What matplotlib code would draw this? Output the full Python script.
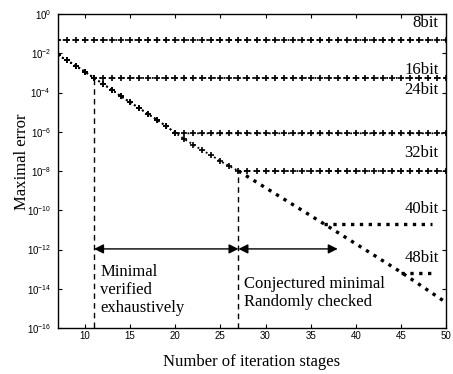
import numpy as np
import matplotlib
matplotlib.use("Agg")
import matplotlib.pyplot as plt

# ---- data (log10 of maximal error) ----
diag_x = list(range(7, 28))
diag_log = [-2.09, -2.36, -2.65, -2.95, -3.26, -3.57, -3.87, -4.20, -4.50, -4.80,
            -5.10, -5.40, -5.72, -6.06, -6.37, -6.66, -6.95, -7.20, -7.50, -7.75, -8.00]
tail_x = [27, 36.5, 45, 50]
tail_log = [-8.00, -10.70, -13.15, -14.70]

bit_labels = ["8bit", "16bit", "24bit", "32bit", "40bit", "48bit"]
plateau_log = [-1.32, -3.26, -6.08, -8.00, -10.70, -13.20]
knee_x = [7, 11, 20, 27, 36.5, 45]
plateau_end = [50, 50, 50, 50, 48.5, 48.5]
label_log = [-0.45, -2.83, -3.87, -7.08, -9.94, -12.43]

xticks = [10, 15, 20, 25, 30, 35, 40, 45, 50]
ytick_exp = [0, -2, -4, -6, -8, -10, -12, -14, -16]

serif = ["Liberation Serif", "DejaVu Serif"]

fig = plt.figure(figsize=(4.53, 3.74), dpi=100)
ax = fig.add_axes([58/453, 1-328/374, (446-58)/453, (328-14)/374])
ax.set_yscale("log")

kw_mark = dict(color="black", linestyle=":", lw=1.3, marker="+", ms=5, mew=1.2)

# curves with markers: 8, 16, 24, 32 bit
for i in range(4):
    k = knee_x[i]
    if i == 0:
        xs = list(range(7, int(plateau_end[i]) + 1))
        ys = [plateau_log[i]] * len(xs)
    else:
        xs_d = [x for x in diag_x if x <= k]
        ys_d = [diag_log[diag_x.index(x)] for x in xs_d]
        xs_p = list(range(int(k) + 1, int(plateau_end[i]) + 1))
        xs = xs_d + xs_p
        ys = ys_d + [plateau_log[i]] * len(xs_p)
    ax.plot(xs, 10.0 ** np.array(ys), **kw_mark)

# remaining diagonal without markers
ax.plot(tail_x, 10.0 ** np.array(tail_log), color="black", linestyle=":", lw=2.4)
# 40bit and 48bit plateaus
for i in (4, 5):
    ax.plot([knee_x[i], plateau_end[i]], 10.0 ** np.array([plateau_log[i]] * 2),
            color="black", linestyle=":", lw=2.4)

# bit labels
for lab, ly in zip(bit_labels, label_log):
    ax.text(49.2, 10.0 ** ly, lab, ha="right", va="center", fontsize=12, family=serif)

# dashed vertical lines
ax.plot([11, 11], [10.0 ** -3.3, 1e-16], color="black", ls="--", lw=1.0, dashes=(4, 3))
ax.plot([27, 27], [10.0 ** -8.3, 1e-16], color="black", ls="--", lw=1.0, dashes=(4, 3))

# arrows
arr_y = 10.0 ** -11.97
for x0, x1 in [(11, 27), (27, 38)]:
    ax.annotate("", xy=(x1, arr_y), xytext=(x0, arr_y),
                arrowprops=dict(arrowstyle="<|-|>", color="black", lw=1.0,
                                mutation_scale=14, shrinkA=0, shrinkB=0))

ax.text(11.7, 10.0 ** -14.06, "Minimal\nverified\nexhaustively", ha="left", va="center",
        fontsize=12, family=serif, linespacing=1.15)
ax.text(27.6, 10.0 ** -14.2, "Conjectured minimal\nRandomly checked", ha="left", va="center",
        fontsize=12, family=serif, linespacing=1.15)

ax.set_xlim(7, 50)
ax.set_ylim(1e-16, 1e0)
ax.set_xticks(xticks)
ax.set_xticklabels([str(t) for t in xticks])
ax.set_yticks([10.0 ** e for e in ytick_exp])
ax.set_yticklabels([r"$\mathdefault{10^{%d}}$" % e for e in ytick_exp])
ax.minorticks_off()
ax.tick_params(direction="in", top=True, right=True, length=3, width=0.8, labelsize=7)
ax.tick_params(axis="x", pad=2.5)
ax.tick_params(axis="y", pad=5)
for lab in ax.get_xticklabels() + ax.get_yticklabels():
    lab.set_family(["Liberation Sans", "DejaVu Sans"])
for s in ax.spines.values():
    s.set_linewidth(1.0)

ax.set_xlabel("Number of iteration stages", fontsize=12, family=serif)
ax.set_ylabel("Maximal error", fontsize=12, family=serif)
ax.xaxis.set_label_coords(0.5, (328 - 362) / 314, transform=ax.transAxes)
ax.yaxis.set_label_coords((22 - 58) / 388, (328 - 162) / 314, transform=ax.transAxes)
ax.xaxis.label.set_va("center")
ax.yaxis.label.set_va("center")

fig.savefig("out.png", dpi=100)
